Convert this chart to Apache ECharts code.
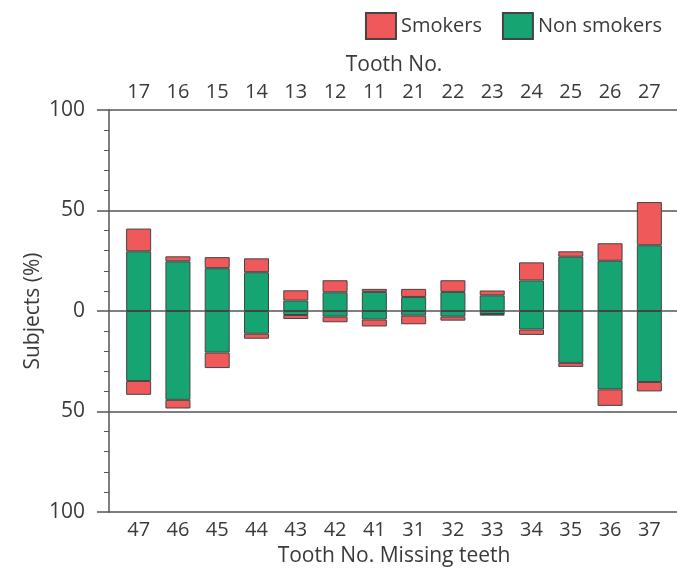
<!DOCTYPE html>
<html lang="en">
<head>
<meta charset="utf-8">
<title>Missing teeth, smokers vs non smokers</title>
<script src="https://cdn.jsdelivr.net/npm/echarts@6/dist/echarts.min.js"></script>
<style>
  html, body { margin: 0; padding: 0; background: #fff; }
  #main { width: 677px; height: 575px; }
</style>
</head>
<body>
<div id="main"></div>
<script type="text/javascript">
// tooth numbers: upper jaw (top axis) and lower jaw (bottom axis)
var upperTeeth = ['17', '16', '15', '14', '13', '12', '11', '21', '22', '23', '24', '25', '26', '27'];
var lowerTeeth = ['47', '46', '45', '44', '43', '42', '41', '31', '32', '33', '34', '35', '36', '37'];

// % of subjects missing the tooth, upper jaw
var upperNonSmokers = [29.7, 24.7, 21.3, 19.3, 5.2, 9.3, 9.5, 7.0, 9.5, 7.8, 15.2, 27.0, 25.0, 32.7];
var upperSmokers    = [11.3, 2.5, 5.5, 6.9, 5.1, 6.0, 1.5, 4.0, 5.8, 2.4, 9.0, 2.7, 8.7, 21.5];

// lower jaw (drawn downwards)
var lowerNonSmokers = [34.8, 44.2, 20.7, 11.3, 2.0, 2.8, 4.2, 2.3, 2.8, 1.5, 9.2, 25.8, 39.0, 35.3];
var lowerSmokers    = [6.9, 4.3, 7.7, 2.5, 2.0, 2.8, 3.5, 4.3, 2.0, 0.8, 2.7, 2.0, 8.2, 4.7];

var red = '#f0595a';
var green = '#16a572';
var lineColor = '#555';
var txt = '#3a3a3a';
var font = 'Open Sans';

function neg(arr) {
    return arr.map(function (v) { return -v; });
}

var chart = echarts.init(document.getElementById('main'));

var barStyle = function (c) {
    return { color: c, borderColor: '#444', borderWidth: 1 };
};

var yBase = { type: 'value', min: -100, max: 100, interval: 50 };

option = {
    animation: false,
    textStyle: { fontFamily: font, color: txt },
    legend: {
        data: ['Smokers', 'Non smokers'],
        right: 10,
        top: 7,
        icon: 'rect',
        itemWidth: 30,
        itemHeight: 26,
        itemGap: 20,
        textStyle: { fontSize: 20, color: txt, fontFamily: font }
    },
    grid: { left: 119, right: 8, top: 110, bottom: 63, outerBoundsMode: 'none', containLabel: false },
    xAxis: [{
        type: 'category',
        data: lowerTeeth,
        position: 'bottom',
        name: 'Tooth No. Missing teeth',
        nameLocation: 'middle',
        nameGap: 34,
        nameMoveOverlap: false,
        nameTextStyle: { fontSize: 21, color: txt },
        axisLine: { show: false, onZero: false },
        axisTick: { show: false },
        axisLabel: { fontSize: 20, color: txt, margin: 8 }
    }, {
        type: 'category',
        data: upperTeeth,
        position: 'top',
        name: 'Tooth No.',
        nameLocation: 'middle',
        nameGap: 34,
        nameMoveOverlap: false,
        nameTextStyle: { fontSize: 21, color: txt },
        axisLine: { show: false, onZero: false },
        axisTick: { show: false },
        axisLabel: { fontSize: 20, color: txt, margin: 8 }
    }],
    yAxis: [Object.assign({}, yBase, {
        position: 'left',
        offset: 10,
        name: 'Subjects (%)',
        nameLocation: 'middle',
        nameGap: 65,
        nameMoveOverlap: false,
        nameTextStyle: { fontSize: 21, color: txt },
        axisLine: { show: true, lineStyle: { color: lineColor, width: 1.5 } },
        axisTick: { show: true, length: 12, lineStyle: { color: lineColor, width: 1.5 } },
        minorTick: { show: true, splitNumber: 5, length: 5, lineStyle: { color: lineColor } },
        axisLabel: {
            fontSize: 21, color: txt, margin: 24,
            formatter: function (v) { return Math.abs(v); }
        },
        splitLine: { show: true, lineStyle: { color: lineColor, width: 1.5 } }
    }), Object.assign({}, yBase, {
        // fills the gap between the axis line and the plot area
        position: 'left',
        offset: 0,
        axisLine: { show: false },
        axisTick: { show: true, length: 10, lineStyle: { color: lineColor, width: 1.5 } },
        axisLabel: { show: false },
        splitLine: { show: false }
    }), Object.assign({}, yBase, {
        position: 'right',
        offset: 0,
        axisLine: { show: false },
        axisTick: { show: true, length: 8, lineStyle: { color: lineColor, width: 1.5 } },
        axisLabel: { show: false },
        splitLine: { show: false }
    })],
    series: [{
        name: 'Non smokers',
        type: 'bar',
        stack: 'teeth',
        barWidth: 25,
        itemStyle: barStyle(green),
        data: upperNonSmokers
    }, {
        name: 'Smokers',
        type: 'bar',
        stack: 'teeth',
        barWidth: 25,
        itemStyle: barStyle(red),
        data: upperSmokers
    }, {
        name: 'Non smokers',
        type: 'bar',
        stack: 'teeth',
        barWidth: 25,
        itemStyle: barStyle(green),
        data: neg(lowerNonSmokers)
    }, {
        name: 'Smokers',
        type: 'bar',
        stack: 'teeth',
        barWidth: 25,
        itemStyle: barStyle(red),
        data: neg(lowerSmokers)
    }]
};

chart.setOption(option);
</script>
</body>
</html>
